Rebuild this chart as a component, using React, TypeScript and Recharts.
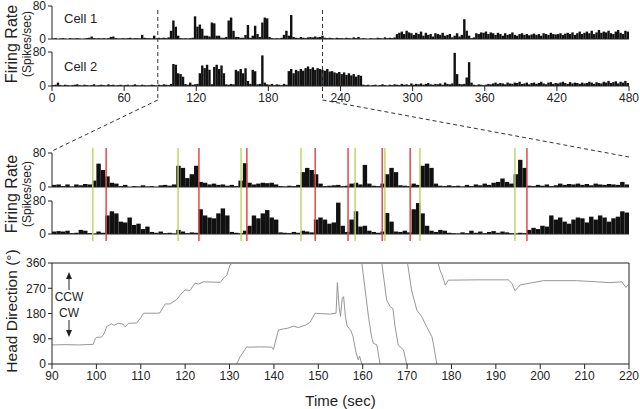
import { Bar, ComposedChart, Line, LineChart, ReferenceLine, XAxis, YAxis } from "recharts";

const FONT = '"Liberation Sans", Arial, Helvetica, sans-serif';
const INK = "#222";

// overview: 2 s bins, 0-480 s
const overviewBin = 2;
const cell1Overview = [
  1, 2, 0, 1, 2, 1, 0, 2, 1, 1,
  2, 1, 0, 1, 2, 3, 6, 2, 1, 2,
  1, 2, 1, 2, 5, 6, 2, 1, 1, 2,
  1, 2, 3, 1, 2, 2, 1, 10, 3, 2,
  2, 1, 8, 2, 3, 2, 3, 2, 4, 20,
  45, 30, 8, 2, 1, 2, 1, 2, 3, 55,
  30, 35, 25, 8, 8, 6, 40, 38, 8, 8,
  3, 3, 5, 45, 52, 20, 5, 5, 3, 3,
  10, 34, 3, 8, 32, 12, 5, 40, 52, 50,
  5, 2, 1, 2, 1, 3, 10, 20, 8, 58,
  5, 3, 2, 5, 3, 2, 4, 5, 4, 6,
  4, 5, 8, 3, 2, 3, 2, 1, 3, 2,
  2, 1, 3, 2, 1, 4, 2, 5, 1, 2,
  1, 0, 2, 1, 1, 3, 2, 1, 4, 2,
  3, 2, 4, 12, 15, 18, 12, 20, 16, 14,
  10, 15, 12, 18, 8, 15, 10, 12, 6, 14,
  12, 10, 15, 8, 10, 12, 4, 8, 14, 6,
  10, 48, 20, 8, 2, 4, 14, 12, 16, 15,
  18, 12, 16, 14, 10, 15, 12, 8, 14, 10,
  12, 16, 10, 8, 12, 14, 10, 12, 9, 11,
  13, 10, 12, 8, 14, 12, 10, 15, 12, 11,
  12, 14, 10, 13, 15, 12, 16, 10, 14, 18,
  12, 15, 18, 14, 20, 12, 16, 22, 15, 18,
  16, 20, 14, 12, 18, 22, 15, 12, 20, 18,
];
const cell2Overview = [
  2, 3, 8, 2, 1, 3, 2, 1, 2, 3,
  4, 2, 1, 3, 2, 1, 2, 4, 1, 2,
  3, 2, 1, 4, 2, 3, 1, 2, 3, 1,
  2, 3, 1, 2, 4, 2, 1, 3, 2, 1,
  2, 3, 2, 1, 3, 2, 4, 3, 2, 5,
  52, 50, 30, 28, 22, 5, 3, 8, 3, 4,
  5, 30, 48, 42, 50, 38, 4, 45, 50, 40,
  48, 30, 4, 3, 5, 4, 38, 35, 40, 30,
  42, 12, 5, 38, 35, 4, 5, 72, 8, 4,
  3, 5, 2, 4, 3, 2, 5, 3, 35, 40,
  30, 38, 35, 40, 36, 42, 46, 40, 44, 38,
  42, 40, 38, 36, 40, 34, 35, 32, 30, 33,
  28, 32, 26, 30, 25, 28, 22, 26, 24, 3,
  2, 3, 1, 2, 3, 1, 2, 4, 2, 1,
  3, 2, 4, 3, 2, 5, 3, 4, 2, 6,
  3, 5, 4, 6, 3, 5, 7, 4, 3, 5,
  4, 6, 3, 8, 5, 4, 6, 78, 28, 5,
  4, 5, 20, 56, 8, 3, 2, 4, 3, 2,
  3, 5, 4, 6, 8, 5, 7, 6, 4, 8,
  6, 5, 8, 7, 10, 5, 6, 8, 4, 7,
  8, 5, 7, 10, 6, 4, 8, 9, 5, 7,
  6, 8, 10, 7, 5, 9, 6, 8, 7, 5,
  8, 6, 7, 10, 8, 5, 9, 7, 6, 10,
  8, 12, 7, 9, 11, 6, 10, 8, 12, 7,
];
const overviewTicks = [0, 60, 120, 180, 240, 300, 360, 420, 480];
// where the expanded window is marked on the overview
const windowMarks = [88, 225];

// expanded window: 1 s bins, 90-220 s
const zoomStart = 90;
const cell1Zoom = [
  5, 6, 2, 6, 1, 6, 4, 7, 6, 15,
  55, 40, 25, 10, 8, 2, 5, 0, 2, 1,
  4, 1, 2, 0, 4, 5, 3, 6, 50, 45,
  21, 30, 50, 12, 10, 6, 8, 5, 6, 3,
  5, 2, 15, 56, 10, 6, 8, 10, 9, 10,
  6, 2, 1, 3, 2, 5, 35, 45, 40, 30,
  8, 2, 3, 4, 5, 2, 3, 8, 10, 6,
  52, 8, 3, 2, 8, 30, 45, 35, 4, 3,
  2, 8, 5, 50, 55, 45, 8, 3, 2, 4,
  2, 3, 1, 5, 2, 6, 4, 8, 5, 10,
  12, 20, 12, 8, 30, 64, 45, 3, 2, 5,
  3, 6, 2, 4, 8, 5, 7, 6, 8, 5,
  7, 4, 8, 6, 5, 7, 6, 5, 12, 6,
];
const cell2Zoom = [
  6, 7, 6, 8, 2, 3, 10, 8, 2, 1,
  6, 3, 45, 55, 50, 30, 28, 40, 22, 25,
  12, 18, 5, 3, 6, 2, 3, 1, 10, 6,
  2, 4, 3, 60, 45, 40, 38, 50, 62, 45,
  5, 3, 2, 8, 20, 45, 38, 50, 58, 40,
  35, 4, 3, 2, 5, 3, 8, 6, 4, 35,
  40, 35, 25, 28, 76, 20, 5, 35, 55, 18,
  20, 8, 5, 3, 6, 51, 30, 6, 5, 8,
  4, 60, 75, 50, 20, 8, 5, 10, 8, 3,
  2, 1, 4, 2, 8, 3, 6, 2, 5, 7,
  3, 6, 4, 2, 1, 3, 2, 10, 15, 12,
  20, 18, 45, 35, 40, 30, 25, 35, 40, 38,
  28, 42, 35, 45, 40, 30, 38, 42, 55, 52,
];
const zoomTicks = [90, 100, 110, 120, 130, 140, 150, 160, 170, 180, 190, 200, 210, 220];
const greenMarks = [99.2, 118.4, 132.6, 146.1, 158.3, 165.0, 172.9, 194.3];
const redMarks = [102.2, 123.1, 133.9, 149.3, 156.7, 164.4, 170.7, 197.0];

// head direction trace, null = wrap-around break
const hdTime = [
  90, 93, 96, 99.3, 99.6, 100, 101.2, 101.8, 102.3, 103, 103.4, 104, 104.9, 106, 106.5, 107.2, 109.1,
  110, 110.6, 113.6, 114.3, 115.5, 116.6, 118.1, 119, 120, 121.1, 122.2, 123, 124.1, 127.9, 128.6,
  129.4, 130.1, 130.7,
  131,
  131.6, 132.4, 133.9, 134.2, 137, 139.5, 139.9, 141, 142.1, 143, 144.4, 145.5, 147, 148.1, 149.3,
  150, 152.6, 154, 154.3, 154.7, 155, 155.4, 155.7, 156.1, 156.5, 157.3, 157.8, 158.5, 159, 159.3,
  159.8,
  159.8,
  159.8, 161.3, 162, 162.4, 163.2, 163.9,
  164.1,
  164.3, 165.4, 166.2, 166.8, 167.3, 168, 169.2, 169.9,
  170,
  170.1, 171, 172.2, 173.3, 174.4, 175.6, 175.9, 176.7,
  176.85,
  177, 177.4, 177.9, 178.6, 179.3, 180.4, 186, 192.8, 193.6, 194.3, 195.5, 200.7, 208.2, 212.7,
  215.7, 218.4, 219.3, 220,
];
const hdDeg: (number | null)[] = [
  68, 69, 68, 70, 85, 95, 96, 110, 133, 140, 143, 138, 145, 142, 132, 145, 146,
  165, 181, 181, 182, 214, 214, 230, 248, 264, 262, 288, 285, 293, 291, 305,
  317, 353, 360,
  null,
  0, 26, 62, 60, 61, 60, 52, 121, 125, 127, 135, 130, 138, 148, 181,
  180, 178, 181, 290, 200, 170, 235, 240, 170, 135, 120, 100, 40, 15, 28,
  0,
  null,
  360, 169, 97, 74, 68, 0,
  null,
  360, 228, 204, 198, 133, 68, 50, 0,
  null,
  360, 264, 192, 169, 133, 97, 74, 0,
  null,
  360, 335, 317, 281, 299, 299, 300, 300, 288, 261, 282, 297, 297, 293,
  290, 293, 273, 285,
];
const hdTicks = [0, 90, 180, 270, 360];

const overviewData = cell1Overview.map((v, i) => ({
  t: i * overviewBin + overviewBin / 2,
  c1: v,
  c2: cell2Overview[i],
}));
const zoomData = cell1Zoom.map((v, i) => ({ t: zoomStart + i + 0.5, c1: v, c2: cell2Zoom[i] }));
const hdData = hdTime.map((t, i) => ({ t, deg: hdDeg[i] }));
const markData = [...greenMarks, ...redMarks].sort((a, b) => a - b).map((t) => ({ t, y: 0 }));

// shared layout
const W = 640;
const PLOT_L = 52;
const PLOT_R = 629;
const AXIS_W = 40;
const margin = (top: number, bottom: number) => ({ top, right: W - PLOT_R, bottom, left: PLOT_L - AXIS_W });
const tickStyle = { fontSize: 12, fill: INK, fontFamily: FONT };
const overviewX = (t: number) => PLOT_L + (t / 480) * (PLOT_R - PLOT_L);

function Hist({
  data,
  dataKey,
  domain,
  ticks,
  top,
  plotH,
  barSize,
  showX = false,
}: {
  data: { t: number }[];
  dataKey: string;
  domain: [number, number];
  ticks?: number[];
  top: number;
  plotH: number;
  barSize: number;
  showX?: boolean;
}) {
  const xH = showX ? 22 : 1;
  const padTop = 9;
  const padBottom = showX ? 2 : 9;
  return (
    <div style={{ position: "absolute", left: 0, top: top - padTop }}>
      <ComposedChart
        width={W}
        height={padTop + plotH + xH + padBottom}
        data={data}
        margin={margin(padTop, padBottom)}
        barGap={0}
        barCategoryGap={0}
      >
        <XAxis
          type="number"
          dataKey="t"
          domain={domain}
          ticks={ticks}
          interval={0}
          height={xH}
          tick={showX ? tickStyle : false}
          tickLine={showX ? { stroke: INK } : false}
          tickSize={5}
          axisLine={{ stroke: INK }}
        />
        <YAxis
          domain={[0, 80]}
          ticks={[0, 80]}
          interval={0}
          width={AXIS_W}
          tick={tickStyle}
          tickSize={4}
          tickLine={{ stroke: INK }}
          axisLine={{ stroke: INK }}
        />
        <Bar dataKey={dataKey} fill="#111" barSize={barSize} isAnimationActive={false} />
      </ComposedChart>
    </div>
  );
}

export default function App() {
  const ovBar = (overviewBin / 480) * (PLOT_R - PLOT_L) - 0.004;
  const zmBar = (1 / 130) * (PLOT_R - PLOT_L) - 0.004;
  const [w0, w1] = windowMarks;
  return (
    <div style={{ position: "absolute", left: 0, top: 0, width: W, height: 409, background: "#fff", fontFamily: FONT }}>
      <Hist data={overviewData} dataKey="c1" domain={[0, 480]} top={6} plotH={33} barSize={ovBar} />
      <Hist data={overviewData} dataKey="c2" domain={[0, 480]} ticks={overviewTicks} top={52} plotH={34} barSize={ovBar} showX />

      <Hist data={zoomData} dataKey="c1" domain={[90, 220]} top={153} plotH={34} barSize={zmBar} />
      <Hist data={zoomData} dataKey="c2" domain={[90, 220]} top={201} plotH={33} barSize={zmBar} />

      {/* start (green) / end (red) markers across both expanded rows */}
      <div style={{ position: "absolute", left: 0, top: 148 }}>
        <ComposedChart width={W} height={93} data={markData} margin={{ top: 0, right: W - PLOT_R, bottom: 0, left: PLOT_L }}>
          <XAxis type="number" dataKey="t" domain={[90, 220]} hide />
          <YAxis domain={[0, 1]} hide />
          <Line dataKey="y" stroke="none" dot={false} isAnimationActive={false} />
          {greenMarks.map((t) => (
            <ReferenceLine key={`g${t}`} x={t} stroke="#bfd66a" strokeWidth={1.5} />
          ))}
          {redMarks.map((t) => (
            <ReferenceLine key={`r${t}`} x={t} stroke="#de4a4a" strokeWidth={1.5} />
          ))}
        </ComposedChart>
      </div>

      <div style={{ position: "absolute", left: 0, top: 255 }}>
        <LineChart width={W} height={154} data={hdData} margin={margin(8, 3)}>
          <XAxis
            type="number"
            dataKey="t"
            domain={[90, 220]}
            ticks={zoomTicks}
            interval={0}
            height={42}
            tick={tickStyle}
            tickSize={5}
            tickLine={{ stroke: INK }}
            axisLine={{ stroke: INK }}
            label={{ value: "Time (sec)", position: "insideBottom", offset: 0, fontSize: 15, fill: INK, fontFamily: FONT }}
          />
          <YAxis
            domain={[0, 360]}
            ticks={hdTicks}
            interval={0}
            width={AXIS_W}
            tick={tickStyle}
            tickSize={4}
            tickLine={{ stroke: INK }}
            axisLine={{ stroke: INK }}
          />
          <ReferenceLine y={360} stroke={INK} />
          <ReferenceLine x={220} stroke={INK} />
          <Line type="linear" dataKey="deg" stroke="#8a8a8a" strokeWidth={0.9} dot={false} connectNulls={false} isAnimationActive={false} />
        </LineChart>
      </div>

      <svg width={W} height={409} style={{ position: "absolute", left: 0, top: 0, pointerEvents: "none" }} fontFamily={FONT} fill={INK}>
        {/* expanded-window guides */}
        <g stroke="#333" strokeWidth={1} strokeDasharray="4 3" fill="none">
          <line x1={overviewX(w0)} y1={10} x2={overviewX(w0)} y2={100} />
          <line x1={overviewX(w1)} y1={10} x2={overviewX(w1)} y2={100} />
          <line x1={overviewX(w0)} y1={100} x2={PLOT_L} y2={151} />
          <line x1={overviewX(w1)} y1={100} x2={PLOT_R} y2={157} />
        </g>

        <text x={64} y={23} fontSize={13}>Cell 1</text>
        <text x={64} y={71} fontSize={13}>Cell 2</text>

        <g textAnchor="middle">
          <text transform="translate(16.5,44) rotate(-90)" fontSize={16}>Firing Rate</text>
          <text transform="translate(31,44) rotate(-90)" fontSize={12}>(Spikes/sec)</text>
          <text transform="translate(16.5,194) rotate(-90)" fontSize={16}>Firing Rate</text>
          <text transform="translate(31,194) rotate(-90)" fontSize={12}>(Spikes/sec)</text>
          <text transform="translate(17,311) rotate(-90)" fontSize={15.5}>Head Direction (°)</text>
          <text x={69} y={301} fontSize={12}>CCW</text>
          <text x={69} y={317} fontSize={12}>CW</text>
        </g>

        <g stroke={INK} strokeWidth={1}>
          <line x1={69} y1={290} x2={69} y2={277} />
          <line x1={69} y1={320} x2={69} y2={332} />
        </g>
        <polygon points="69,272 66,279 72,279" />
        <polygon points="69,337 66,330 72,330" />
      </svg>
    </div>
  );
}
